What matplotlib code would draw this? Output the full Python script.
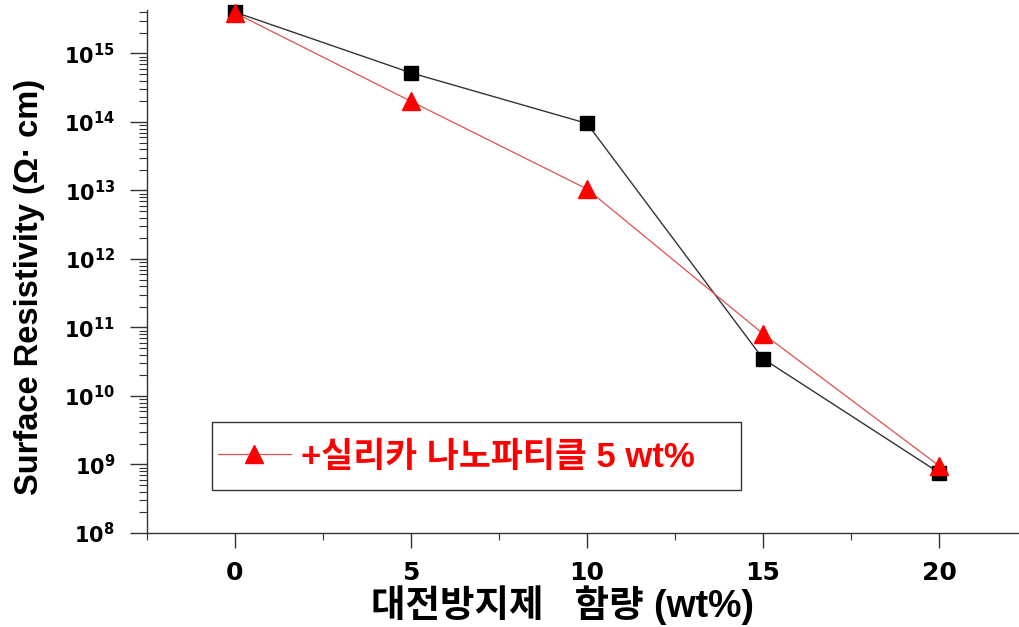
import math
import matplotlib
matplotlib.use("Agg")
import matplotlib.pyplot as plt
from matplotlib.patches import Rectangle
from matplotlib.ticker import LogLocator, FixedLocator, NullFormatter, FuncFormatter

plt.rcParams['mathtext.fontset'] = 'dejavusans'
plt.rcParams['font.family'] = ['Liberation Sans', 'Noto Sans CJK KR']

# antistatic agent content (wt%)
content = [0, 5, 10, 15, 20]
# surface resistivity without silica
base_resistivity = [4.0e15, 5.2e14, 9.5e13, 3.5e10, 7.6e8]
# surface resistivity with 5 wt% silica nanoparticles
silica_resistivity = [3.9e15, 2.0e14, 1.05e13, 8.1e10, 9.6e8]

x_ticks = [0, 5, 10, 15, 20]
legend_label = '+실리카 나노파티클 5 wt%'
x_label = '대전방지제   함량 (wt%)'
y_label = 'Surface Resistivity (Ω· cm)'


def power_label(v, pos):
    return r'$\mathbf{10^{%d}}$' % round(math.log10(v))


fig = plt.figure(figsize=(10.2, 6.27), dpi=100)
ax = fig.add_axes([147 / 1020, 94 / 627, 880 / 1020, 523 / 627])

ax.plot(content, base_resistivity, color='#333333', lw=1.0, marker='s',
        markersize=10.5, markerfacecolor='black', markeredgecolor='black',
        zorder=3, clip_on=False)
silica_line, = ax.plot(content, silica_resistivity, color='#e05050', lw=0.9,
                       marker='^', markersize=12.5, markerfacecolor='red',
                       markeredgecolor='red', zorder=4, clip_on=False,
                       label=legend_label)

ax.set_yscale('log')
ax.set_xlim(-2.5, 22.5)
ax.set_ylim(1e8, 4.3e15)

ax.xaxis.set_major_locator(FixedLocator(x_ticks))
ax.xaxis.set_minor_locator(FixedLocator([-2.5, 2.5, 7.5, 12.5, 17.5, 22.5]))
ax.yaxis.set_major_locator(LogLocator(base=10, numticks=20))
ax.yaxis.set_minor_locator(LogLocator(base=10, subs=[2, 3, 4, 5, 6, 7, 8, 9], numticks=20))
ax.yaxis.set_major_formatter(FuncFormatter(power_label))
ax.yaxis.set_minor_formatter(NullFormatter())

for side in ('top', 'right'):
    ax.spines[side].set_visible(False)
for side in ('left', 'bottom'):
    ax.spines[side].set_color('#333333')
    ax.spines[side].set_linewidth(1.0)

ax.tick_params(axis='y', which='major', direction='out', length=12, width=1.0,
               color='#333333', pad=11, labelsize=15)
ax.tick_params(axis='y', which='minor', direction='out', length=6, width=0.8,
               color='#333333')
ax.tick_params(axis='x', which='major', direction='out', length=11, width=1.0,
               color='#333333', pad=9, labelsize=18)
ax.tick_params(axis='x', which='minor', direction='out', length=5, width=0.8,
               color='#333333')
for lbl in ax.get_xticklabels():
    lbl.set_fontweight('bold')
    lbl.set_family('DejaVu Sans')

ax.set_xlabel(x_label, fontsize=27, fontweight='bold', va='center', ha='center')
ax.xaxis.set_label_coords((563 - 147) / 880, (533 - 605) / 523)
ax.set_ylabel(y_label, fontsize=23.5, fontweight='bold', va='center', ha='center')
ax.yaxis.set_label_coords((30 - 147) / 880, (533 - 287) / 523)

# legend box and entry
ax.add_patch(Rectangle(((212 - 147) / 880, (533 - 490) / 523),
                       (741 - 212) / 880, (490 - 422) / 523,
                       transform=ax.transAxes, fill=False,
                       edgecolor='#333333', lw=1.0, zorder=5))
leg = ax.legend(handles=[silica_line], loc='center left',
                bbox_to_anchor=((218 - 147) / 880, (533 - 457) / 523),
                frameon=False, borderpad=0, borderaxespad=0,
                handlelength=2.1, handletextpad=0.3,
                prop={'family': ['Liberation Sans', 'Noto Sans CJK KR'],
                      'weight': 'bold', 'size': 25})
for t in leg.get_texts():
    t.set_color('red')

fig.savefig('out.png', dpi=100)
